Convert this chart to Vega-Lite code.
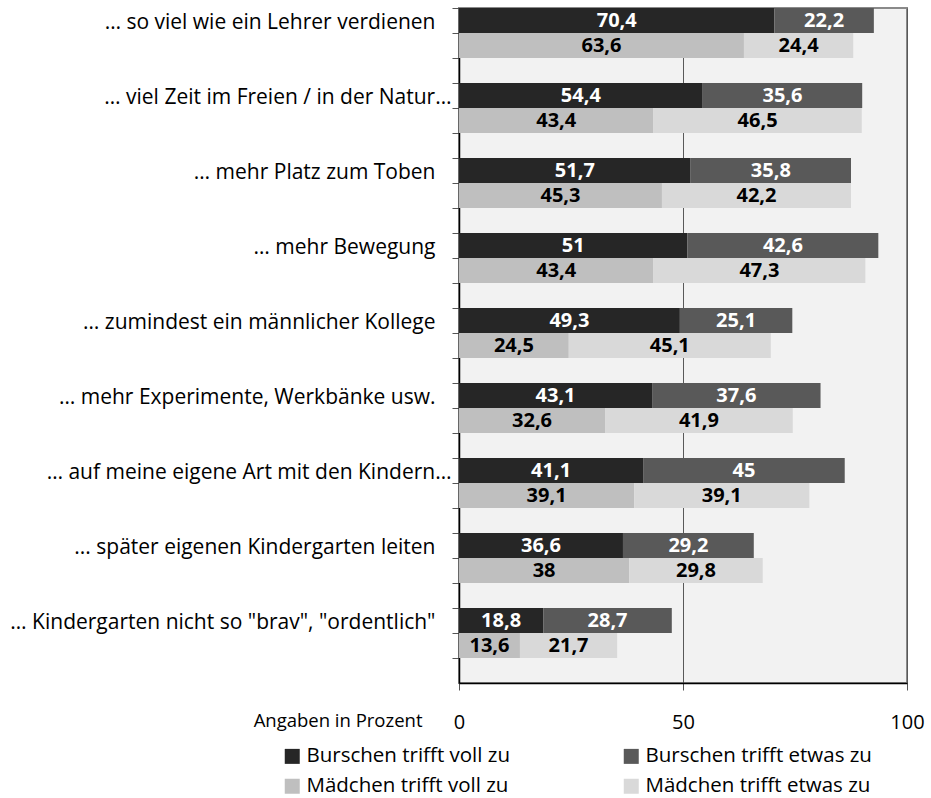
{
  "$schema": "https://vega.github.io/schema/vega-lite/v6.json",
  "autosize": "none",
  "padding": {"left": 459, "top": 8, "right": 24, "bottom": 115},
  "width": 448,
  "height": 675,
  "background": "white",
  "config": {
    "font": "Open Sans",
    "view": {"fill": "#f2f2f2", "stroke": "#8a8a8a", "strokeWidth": 2}
  },
  "data": {
    "values": [
      {"cat": "…  so viel wie ein Lehrer verdienen", "group": "Burschen", "answer": "trifft voll zu", "level": 1, "value": 70.4},
      {"cat": "…  so viel wie ein Lehrer verdienen", "group": "Burschen", "answer": "trifft etwas zu", "level": 2, "value": 22.2},
      {"cat": "…  so viel wie ein Lehrer verdienen", "group": "Mädchen", "answer": "trifft voll zu", "level": 1, "value": 63.6},
      {"cat": "…  so viel wie ein Lehrer verdienen", "group": "Mädchen", "answer": "trifft etwas zu", "level": 2, "value": 24.4},
      {"cat": "… viel Zeit im Freien / in der Natur…", "group": "Burschen", "answer": "trifft voll zu", "level": 1, "value": 54.4},
      {"cat": "… viel Zeit im Freien / in der Natur…", "group": "Burschen", "answer": "trifft etwas zu", "level": 2, "value": 35.6},
      {"cat": "… viel Zeit im Freien / in der Natur…", "group": "Mädchen", "answer": "trifft voll zu", "level": 1, "value": 43.4},
      {"cat": "… viel Zeit im Freien / in der Natur…", "group": "Mädchen", "answer": "trifft etwas zu", "level": 2, "value": 46.5},
      {"cat": "… mehr Platz zum Toben", "group": "Burschen", "answer": "trifft voll zu", "level": 1, "value": 51.7},
      {"cat": "… mehr Platz zum Toben", "group": "Burschen", "answer": "trifft etwas zu", "level": 2, "value": 35.8},
      {"cat": "… mehr Platz zum Toben", "group": "Mädchen", "answer": "trifft voll zu", "level": 1, "value": 45.3},
      {"cat": "… mehr Platz zum Toben", "group": "Mädchen", "answer": "trifft etwas zu", "level": 2, "value": 42.2},
      {"cat": "… mehr Bewegung", "group": "Burschen", "answer": "trifft voll zu", "level": 1, "value": 51},
      {"cat": "… mehr Bewegung", "group": "Burschen", "answer": "trifft etwas zu", "level": 2, "value": 42.6},
      {"cat": "… mehr Bewegung", "group": "Mädchen", "answer": "trifft voll zu", "level": 1, "value": 43.4},
      {"cat": "… mehr Bewegung", "group": "Mädchen", "answer": "trifft etwas zu", "level": 2, "value": 47.3},
      {"cat": "… zumindest ein männlicher Kollege", "group": "Burschen", "answer": "trifft voll zu", "level": 1, "value": 49.3},
      {"cat": "… zumindest ein männlicher Kollege", "group": "Burschen", "answer": "trifft etwas zu", "level": 2, "value": 25.1},
      {"cat": "… zumindest ein männlicher Kollege", "group": "Mädchen", "answer": "trifft voll zu", "level": 1, "value": 24.5},
      {"cat": "… zumindest ein männlicher Kollege", "group": "Mädchen", "answer": "trifft etwas zu", "level": 2, "value": 45.1},
      {"cat": "… mehr Experimente, Werkbänke usw.", "group": "Burschen", "answer": "trifft voll zu", "level": 1, "value": 43.1},
      {"cat": "… mehr Experimente, Werkbänke usw.", "group": "Burschen", "answer": "trifft etwas zu", "level": 2, "value": 37.6},
      {"cat": "… mehr Experimente, Werkbänke usw.", "group": "Mädchen", "answer": "trifft voll zu", "level": 1, "value": 32.6},
      {"cat": "… mehr Experimente, Werkbänke usw.", "group": "Mädchen", "answer": "trifft etwas zu", "level": 2, "value": 41.9},
      {"cat": "… auf meine eigene Art mit den Kindern…", "group": "Burschen", "answer": "trifft voll zu", "level": 1, "value": 41.1},
      {"cat": "… auf meine eigene Art mit den Kindern…", "group": "Burschen", "answer": "trifft etwas zu", "level": 2, "value": 45},
      {"cat": "… auf meine eigene Art mit den Kindern…", "group": "Mädchen", "answer": "trifft voll zu", "level": 1, "value": 39.1},
      {"cat": "… auf meine eigene Art mit den Kindern…", "group": "Mädchen", "answer": "trifft etwas zu", "level": 2, "value": 39.1},
      {"cat": "... später  eigenen Kindergarten leiten", "group": "Burschen", "answer": "trifft voll zu", "level": 1, "value": 36.6},
      {"cat": "... später  eigenen Kindergarten leiten", "group": "Burschen", "answer": "trifft etwas zu", "level": 2, "value": 29.2},
      {"cat": "... später  eigenen Kindergarten leiten", "group": "Mädchen", "answer": "trifft voll zu", "level": 1, "value": 38},
      {"cat": "... später  eigenen Kindergarten leiten", "group": "Mädchen", "answer": "trifft etwas zu", "level": 2, "value": 29.8},
      {"cat": "… Kindergarten nicht so \"brav\", \"ordentlich\"", "group": "Burschen", "answer": "trifft voll zu", "level": 1, "value": 18.8},
      {"cat": "… Kindergarten nicht so \"brav\", \"ordentlich\"", "group": "Burschen", "answer": "trifft etwas zu", "level": 2, "value": 28.7},
      {"cat": "… Kindergarten nicht so \"brav\", \"ordentlich\"", "group": "Mädchen", "answer": "trifft voll zu", "level": 1, "value": 13.6},
      {"cat": "… Kindergarten nicht so \"brav\", \"ordentlich\"", "group": "Mädchen", "answer": "trifft etwas zu", "level": 2, "value": 21.7}
    ]
  },
  "transform": [
    {"calculate": "datum.cat + '|' + datum.group", "as": "slot"},
    {"calculate": "datum.group + ' ' + datum.answer", "as": "series"},
    {"calculate": "replace(toString(datum.value), '.', ',')", "as": "label"},
    {"stack": "value", "groupby": ["slot"], "sort": [{"field": "level", "order": "ascending"}], "as": ["v0", "v1"]},
    {"calculate": "(datum.v0 + datum.v1) / 2", "as": "mid"}
  ],
  "encoding": {
    "y": {
      "field": "slot",
      "type": "nominal",
      "sort": null,
      "scale": {
        "domain": [
          "…  so viel wie ein Lehrer verdienen|Burschen", "…  so viel wie ein Lehrer verdienen|Mädchen", "…  so viel wie ein Lehrer verdienen|gap",
          "… viel Zeit im Freien / in der Natur…|Burschen", "… viel Zeit im Freien / in der Natur…|Mädchen", "… viel Zeit im Freien / in der Natur…|gap",
          "… mehr Platz zum Toben|Burschen", "… mehr Platz zum Toben|Mädchen", "… mehr Platz zum Toben|gap",
          "… mehr Bewegung|Burschen", "… mehr Bewegung|Mädchen", "… mehr Bewegung|gap",
          "… zumindest ein männlicher Kollege|Burschen", "… zumindest ein männlicher Kollege|Mädchen", "… zumindest ein männlicher Kollege|gap",
          "… mehr Experimente, Werkbänke usw.|Burschen", "… mehr Experimente, Werkbänke usw.|Mädchen", "… mehr Experimente, Werkbänke usw.|gap",
          "… auf meine eigene Art mit den Kindern…|Burschen", "… auf meine eigene Art mit den Kindern…|Mädchen", "… auf meine eigene Art mit den Kindern…|gap",
          "... später  eigenen Kindergarten leiten|Burschen", "... später  eigenen Kindergarten leiten|Mädchen", "... später  eigenen Kindergarten leiten|gap",
          "… Kindergarten nicht so \"brav\", \"ordentlich\"|Burschen", "… Kindergarten nicht so \"brav\", \"ordentlich\"|Mädchen", "… Kindergarten nicht so \"brav\", \"ordentlich\"|gap"
        ],
        "paddingInner": 0,
        "paddingOuter": 0
      },
      "axis": {
        "title": null,
        "bandPosition": 0,
        "labelExpr": "split(datum.value, '|')[1] === 'Burschen' ? split(datum.value, '|')[0] : ''",
        "labelFontSize": 21,
        "labelColor": "#000000",
        "labelPadding": {"condition": {"test": "slice(split(datum.value, '|')[0], -1) === '…'", "value": 1}, "value": 17},
        "labelLimit": 460,
        "labelOffset": 2,
        "tickSize": 7,
        "tickColor": "#555555",
        "domainColor": "#000000",
        "domainWidth": 1.5,
        "grid": false
      }
    }
  },
  "layer": [
    {
      "mark": {"type": "bar", "cornerRadius": 0},
      "encoding": {
        "x": {
          "field": "v0",
          "type": "quantitative",
          "scale": {"domain": [0, 100], "nice": false},
          "axis": {
            "title": "Angaben in Prozent",
            "titleFontSize": 18.5,
            "titleFontWeight": "normal",
            "titleColor": "#000000",
            "titleAlign": "right",
            "titleAnchor": "start",
            "titleBaseline": "middle",
            "titleX": -37,
            "titleY": 37,
            "values": [0, 50, 100],
            "labelFontSize": 20,
            "labelColor": "#000000",
            "labelPadding": 22,
            "labelFlush": false,
            "tickSize": 7,
            "tickColor": "#555555",
            "domainColor": "#000000",
            "domainWidth": 1.5,
            "grid": true,
            "gridColor": "#595959",
            "gridWidth": 1
          }
        },
        "x2": {"field": "v1"},
        "color": {
          "field": "series",
          "type": "nominal",
          "scale": {
            "domain": ["Burschen trifft voll zu", "Mädchen trifft voll zu", "Burschen trifft etwas zu", "Mädchen trifft etwas zu"],
            "range": ["#262626", "#bfbfbf", "#595959", "#d9d9d9"]
          },
          "legend": {
            "title": null,
            "orient": "none",
            "legendX": -177,
            "legendY": 738,
            "columns": 2,
            "columnPadding": 111,
            "rowPadding": 9,
            "symbolType": "square",
            "symbolSize": 225,
            "symbolStrokeWidth": 0,
            "labelFontSize": 20.5,
            "labelColor": "#000000",
            "labelOffset": 4,
            "labelLimit": 400,
            "padding": 0
          }
        }
      }
    },
    {
      "mark": {"type": "text", "fontWeight": "bold", "fontSize": 20, "baseline": "middle", "align": "center"},
      "encoding": {
        "x": {"field": "mid", "type": "quantitative"},
        "text": {"field": "label"},
        "color": {"condition": {"test": "datum.group === 'Burschen'", "value": "#ffffff"}, "value": "#000000"}
      }
    }
  ]
}
